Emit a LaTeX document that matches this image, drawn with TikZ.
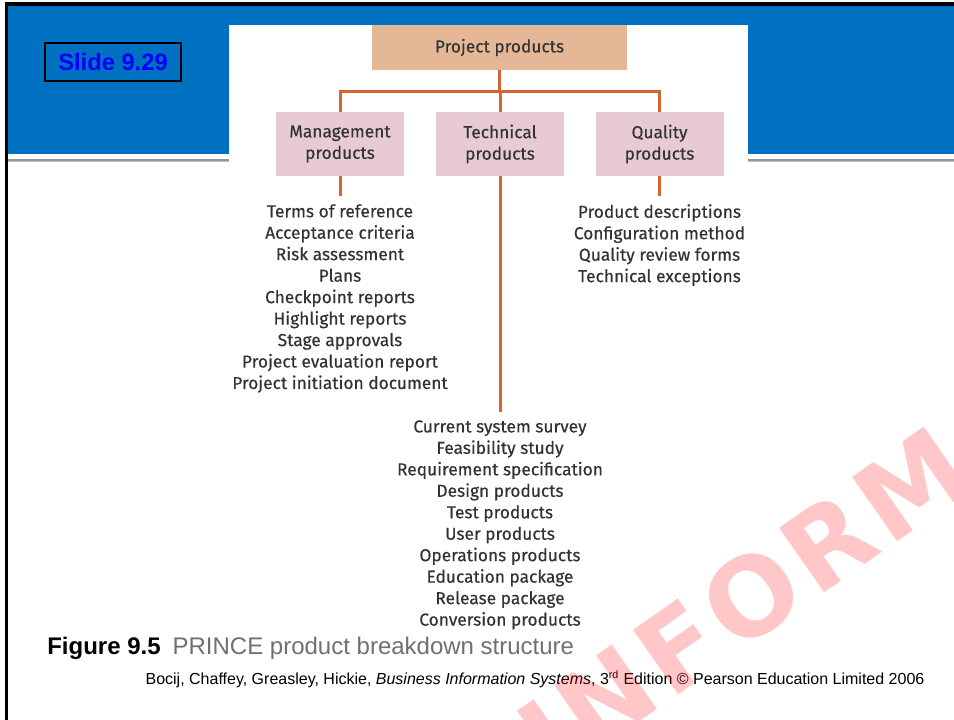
\documentclass[tikz,border=0pt]{standalone}
\usepackage{fontspec}
\setmainfont{Liberation Sans}
\newfontfamily\diagfont{Fira Sans}[FakeBold=0.35]
\newfontfamily\stampfont{DejaVu Sans}[LetterSpace=5.5]
\usetikzlibrary{calc}

\definecolor{bandblue}{RGB}{0,112,192}
\definecolor{slideblue}{RGB}{0,0,255}
\definecolor{topfill}{RGB}{228,184,150}
\definecolor{subfill}{RGB}{232,202,214}
\definecolor{linkorange}{RGB}{212,100,48}
\definecolor{itemgray}{RGB}{50,50,50}
\definecolor{captiongray}{RGB}{112,112,112}
\definecolor{rulegray}{RGB}{150,150,150}

\tikzset{
  treefont/.style={font=\diagfont\fontsize{13}{16.1}\selectfont, text=itemgray},
  topbox/.style={treefont, fill=topfill, draw=none, minimum width=191.25pt, minimum height=33.75pt,
    inner sep=0pt},
  subbox/.style={treefont, fill=subfill, draw=none, minimum width=96pt, minimum height=48pt,
    inner sep=0pt, align=center},
  itemlist/.style={treefont, anchor=north, align=center, inner xsep=0pt, inner ysep=6pt},
  conn/.style={draw=linkorange, line width=2.25pt, line join=miter},
}

\begin{document}
\begin{tikzpicture}[x=0.75pt,y=-0.75pt]
\useasboundingbox (0,0) rectangle (954,720);

% slide frame and title band
\fill[white] (0,0) rectangle (954,720);
\fill[bandblue] (8,6) rectangle (954,154);
\fill[rulegray!60] (8,159) rectangle (954,162);
\fill[rulegray] (8,159.5) rectangle (954,161);
\fill[black] (5,2.5) rectangle (954,6);
\fill[black] (5,2.5) rectangle (8,720);

% slide number
\node[draw=black, line width=0.9pt, minimum width=102pt, minimum height=28.5pt, inner sep=0pt,
  text=slideblue, font=\fontsize{17.8}{20}\selectfont\bfseries] (slide) at (113,62) {Slide 9.29};

% figure panel
\fill[white] (229,25) rectangle (748,163);

% product breakdown tree
\node[topbox] (proj) at (499.5,47.5) {Project products};
\node[subbox] (mgmt) at (340,144) {Management\\products};
\node[subbox] (tech) at (500,144) {Technical\\products};
\node[subbox] (qual) at (659.5,144) {Quality\\products};

\coordinate (bus) at (499.5,92);
\draw[conn] (proj.south) -- (proj.south |- bus);
\draw[conn] (mgmt.north) |- (qual.north |- bus) -- (qual.north);
\draw[conn] (tech.north) -- (tech.north |- bus);

\node[itemlist] (mlist) at (340,196) {Terms of reference\\Acceptance criteria\\Risk assessment\\Plans\\Checkpoint reports\\Highlight reports\\Stage approvals\\Project evaluation report\\Project initiation document};
\node[itemlist] (qlist) at (659.5,196) {Product descriptions\\Configuration method\\Quality review forms\\Technical exceptions};
\node[itemlist] (tlist) at (500,412) {Current system survey\\Feasibility study\\Requirement specification\\Design products\\Test products\\User products\\Operations products\\Education package\\Release package\\Conversion products};

\draw[conn] (mgmt.south) -- (mgmt.south |- mlist.north);
\draw[conn] (qual.south) -- (qual.south |- qlist.north);
\draw[conn] (tech.south) -- (tech.south |- tlist.north);

% caption and source
\node[anchor=base west, inner sep=0pt, font=\fontsize{18}{20}\selectfont] (caption) at (47,654)
  {\textbf{Figure 9.5}\hspace{0.5em}\textcolor{captiongray}{PRINCE product breakdown structure}};
\node[anchor=base, inner sep=0pt, font=\fontsize{12}{14}\selectfont] (source) at (535,684)
  {Bocij, Chaffey, Greasley, Hickie, \textit{Business Information Systems}, 3\textsuperscript{rd} Edition © Pearson Education Limited 2006};

% watermark
\begin{scope}
  \clip (0,0) rectangle (954,720);
  \node[rotate=35, anchor=base west, inner sep=0pt, text=red, text opacity=0.22,
    font=\stampfont\fontsize{81}{84}\selectfont\bfseries] (wm) at (554,782) {INFORMA};
\end{scope}
\end{tikzpicture}
\end{document}
